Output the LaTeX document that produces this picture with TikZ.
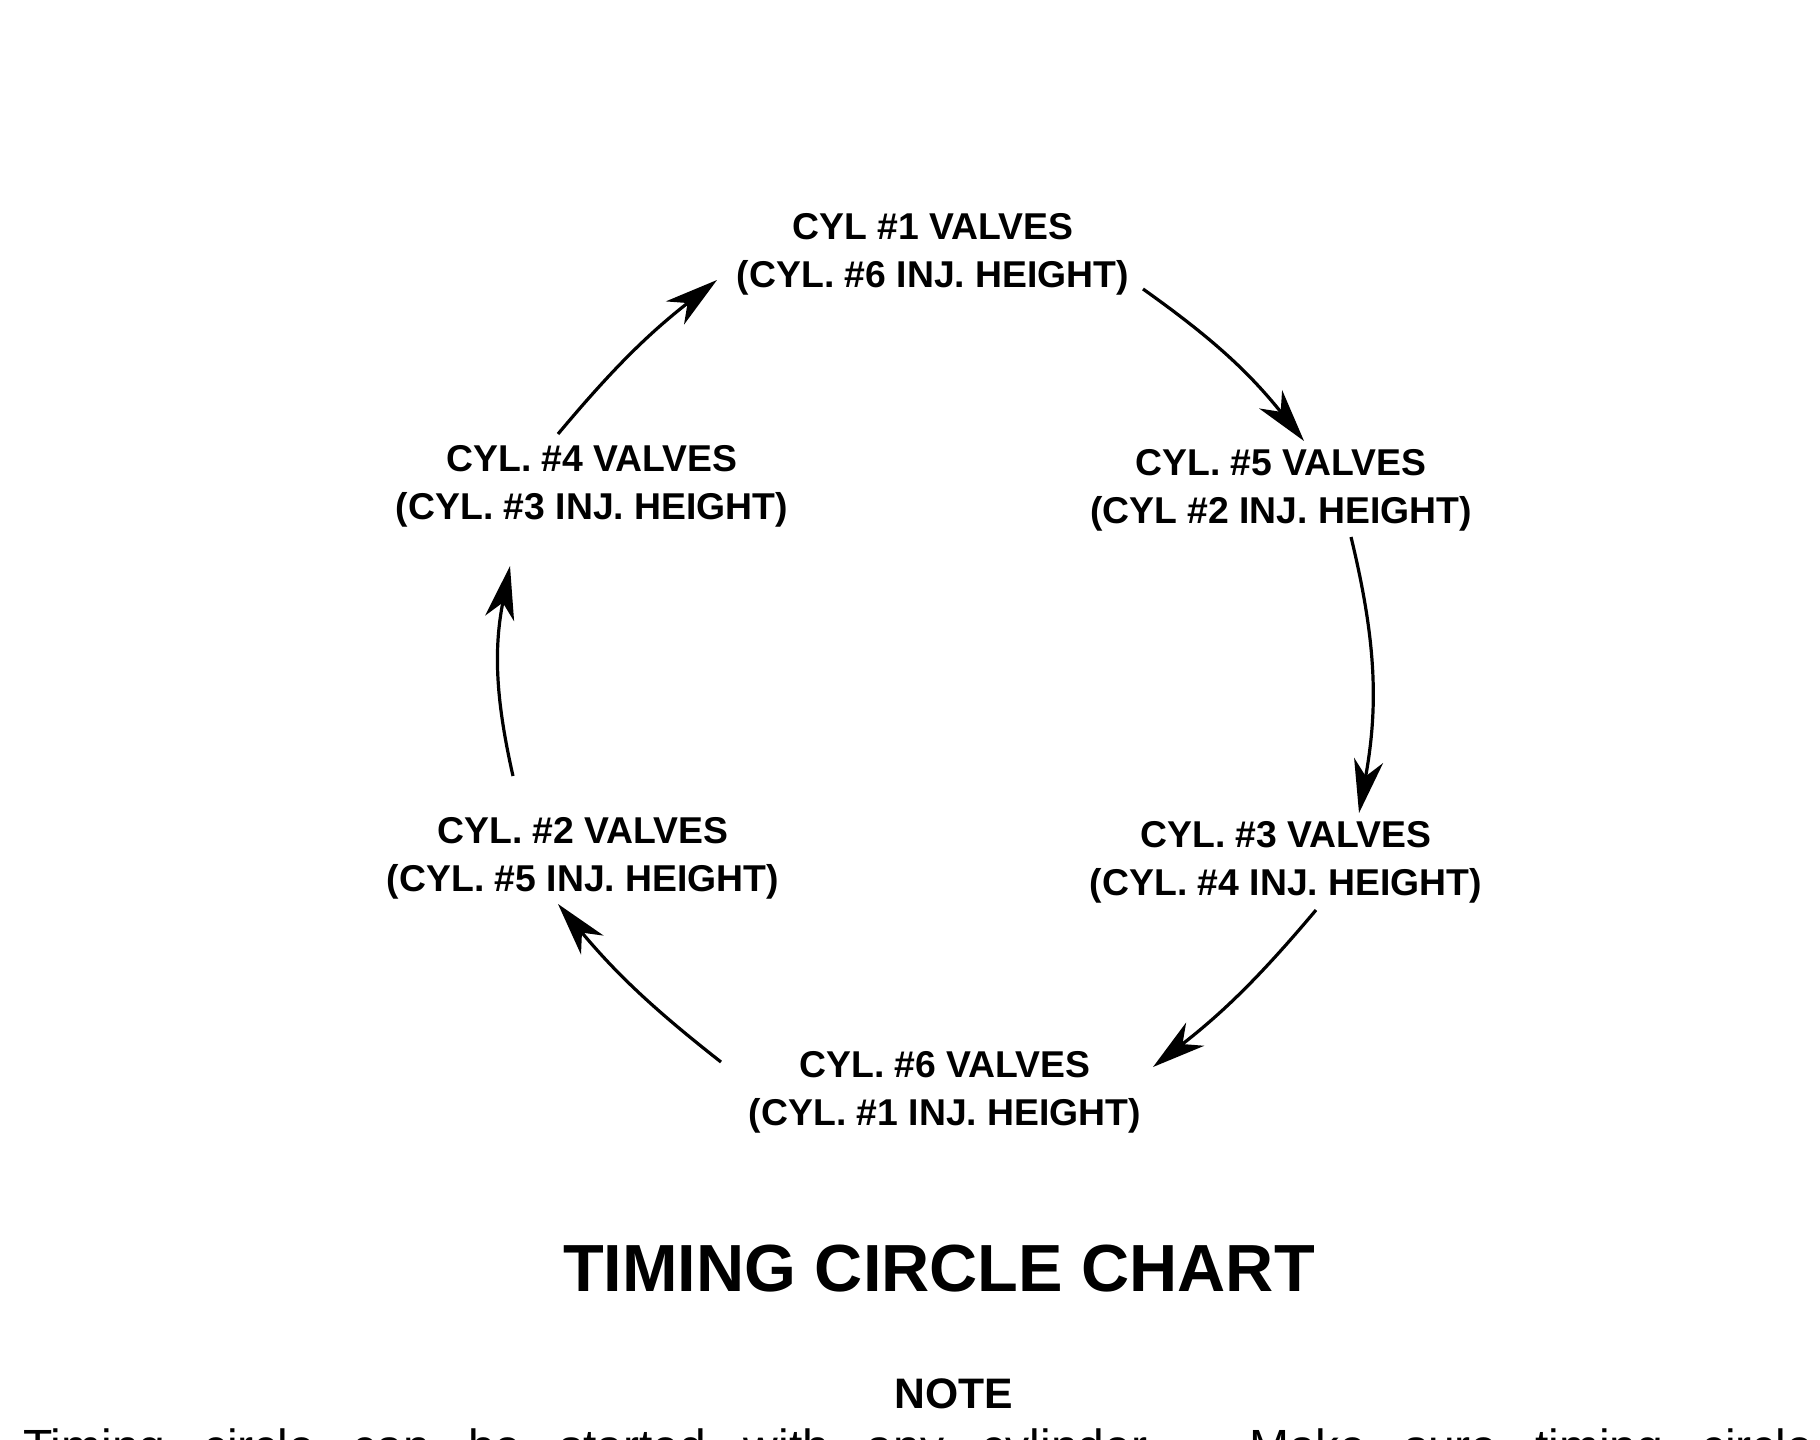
\documentclass[tikz,border=0pt]{standalone}
\usepackage{fontspec}
\setmainfont{Liberation Sans}
\usetikzlibrary{arrows.meta}
\begin{document}
\begin{tikzpicture}[x=0.75pt,y=-0.75pt,
  lbl/.style={align=center,font=\fontsize{28}{36}\selectfont\bfseries,inner sep=0pt},
  arr/.style={line width=2.4pt,-{Stealth[length=40pt,width=22pt,inset=12pt]}}]
\useasboundingbox (0,0) rectangle (1820,1439);
\node[lbl] (c1) at (933,254) {CYL \#1 VALVES\\(CYL. \#6 INJ. HEIGHT)};
\node[lbl] (c5) at (1281,490) {CYL. \#5 VALVES\\(CYL \#2 INJ. HEIGHT)};
\node[lbl] (c3) at (1286,862) {CYL. \#3 VALVES\\(CYL. \#4 INJ. HEIGHT)};
\node[lbl] (c6) at (945,1092) {CYL. \#6 VALVES\\(CYL. \#1 INJ. HEIGHT)};
\node[lbl] (c2) at (583,858) {CYL. \#2 VALVES\\(CYL. \#5 INJ. HEIGHT)};
\node[lbl] (c4) at (592,486) {CYL. \#4 VALVES\\(CYL. \#3 INJ. HEIGHT)};
\coordinate (a1) at (1143,289); \coordinate (b1) at (1304,441);
\coordinate (a2) at (1351,537); \coordinate (b2) at (1359,813);
\coordinate (a3) at (1316,910); \coordinate (b3) at (1153,1067);
\coordinate (a4) at (721,1062); \coordinate (b4) at (558,904);
\coordinate (a5) at (513,776); \coordinate (b5) at (510,566);
\coordinate (a6) at (558,434); \coordinate (b6) at (717,280);
\draw[arr] (a1) to[bend left=8] (b1);
\draw[arr] (a2) to[bend left=12] (b2);
\draw[arr] (a3) to[bend left=6] (b3);
\draw[arr] (a4) to[bend left=6] (b4);
\draw[arr] (a5) to[bend left=12] (b5);
\draw[arr] (a6) to[bend left=6] (b6);
\node[font=\fontsize{50}{54}\selectfont\bfseries,inner sep=0pt,xscale=1.0] (title) at (939,1269) {TIMING CIRCLE CHART};
\node[font=\fontsize{32}{36}\selectfont\bfseries,inner sep=0pt] (note) at (954,1394) {NOTE};
\node[font=\fontsize{36}{40}\selectfont,inner sep=0pt,anchor=north west] (txt) at (23,1428) {\makebox[1790\dimexpr0.75pt\relax][s]{Timing circle can be started with any cylinder. Make sure timing circle}};
\end{tikzpicture}
\end{document}
